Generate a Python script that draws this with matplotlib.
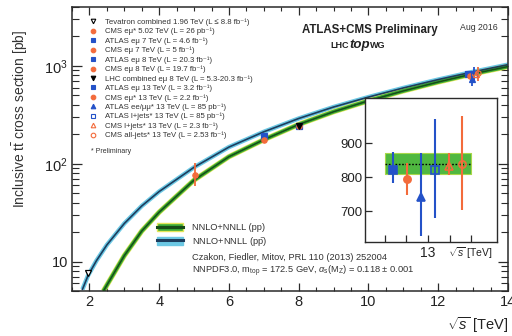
import matplotlib
matplotlib.use("Agg")
import matplotlib.pyplot as plt
from matplotlib.lines import Line2D
from matplotlib.patches import Patch
from matplotlib.legend_handler import HandlerTuple
from matplotlib.ticker import FixedLocator, NullFormatter, FuncFormatter, MultipleLocator

plt.rcParams['font.family'] = ['Liberation Sans', 'DejaVu Sans']
plt.rcParams['mathtext.fontset'] = 'custom'
plt.rcParams['mathtext.rm'] = 'Liberation Sans'
plt.rcParams['mathtext.it'] = 'Liberation Sans:italic'
plt.rcParams['mathtext.bf'] = 'Liberation Sans:bold'

# ---------------- data ----------------
# theory curves
sqrts_pp = [2.4, 2.6, 3.0, 3.5, 4.0, 5.0, 6.0, 7.0, 8.0, 9.0, 10.0, 11.0, 12.0, 13.0, 14.0]
xsec_pp = [5.0, 6.6, 11.5, 20.5, 32, 68, 118, 176, 252, 340, 440, 555, 685, 830, 985]
sqrts_ppbar = [1.8, 1.96, 2.2, 2.5, 3.0, 3.5, 4.0, 5.0, 6.0, 7.0, 8.0, 9.0, 10.0, 11.0, 12.0, 13.0, 14.0]
xsec_ppbar = [5.2, 7.2, 10.2, 14.8, 24.5, 37, 52, 92, 148, 212, 290, 380, 480, 595, 725, 870, 1030]

# theory at 13 TeV (inset band)
theory13_central = 840
theory13_low = 808
theory13_high = 871

# measurements
meas_labels = [
    "Tevatron combined 1.96 TeV (L \u2264 8.8 fb\u207b\u00b9)",
    "CMS e\u03bc* 5.02 TeV (L = 26 pb\u207b\u00b9)",
    "ATLAS e\u03bc 7 TeV (L = 4.6 fb\u207b\u00b9)",
    "CMS e\u03bc 7 TeV (L = 5 fb\u207b\u00b9)",
    "ATLAS e\u03bc 8 TeV (L = 20.3 fb\u207b\u00b9)",
    "CMS e\u03bc 8 TeV (L = 19.7 fb\u207b\u00b9)",
    "LHC combined e\u03bc 8 TeV (L = 5.3-20.3 fb\u207b\u00b9)",
    "ATLAS e\u03bc 13 TeV (L = 3.2 fb\u207b\u00b9)",
    "CMS e\u03bc* 13 TeV (L = 2.2 fb\u207b\u00b9)",
    "ATLAS ee/\u03bc\u03bc* 13 TeV (L = 85 pb\u207b\u00b9)",
    "ATLAS l+jets* 13 TeV (L = 85 pb\u207b\u00b9)",
    "CMS l+jets* 13 TeV (L = 2.3 fb\u207b\u00b9)",
    "CMS all-jets* 13 TeV (L = 2.53 fb\u207b\u00b9)",
]
meas_sqrts = [1.96, 5.02, 7, 7, 8, 8, 8, 13, 13, 13, 13, 13, 13]
meas_xsec = [7.6, 76, 190, 174, 242, 245, 242, 822, 796, 741, 820, 832, 838]
meas_err_lo = [0.4, 17, 7, 7, 10, 9, 9, 38, 49, 112, 140, 26, 135]
meas_err_hi = [0.4, 26, 7, 7, 10, 9, 9, 52, 45, 130, 150, 39, 140]

# ---------------- styles ----------------
BLUE = '#2452c8'
ORANGE = '#f36b3b'
styles = [
    dict(marker='v', color='black', mfc='white'),
    dict(marker='o', color=ORANGE, mfc=ORANGE),
    dict(marker='s', color=BLUE, mfc=BLUE),
    dict(marker='o', color=ORANGE, mfc=ORANGE),
    dict(marker='s', color=BLUE, mfc=BLUE),
    dict(marker='o', color=ORANGE, mfc=ORANGE),
    dict(marker='v', color='black', mfc='black'),
    dict(marker='s', color=BLUE, mfc=BLUE),
    dict(marker='o', color=ORANGE, mfc=ORANGE),
    dict(marker='^', color=BLUE, mfc=BLUE),
    dict(marker='s', color=BLUE, mfc='none'),
    dict(marker='^', color=ORANGE, mfc='none'),
    dict(marker='o', color=ORANGE, mfc='none'),
]

W, H = 512, 336
fig = plt.figure(figsize=(W / 100, H / 100), dpi=100)
ax = fig.add_axes([72 / W, 1 - 291 / H, (508 - 72) / W, (291 - 7) / H])

FRAME = '#2a2a2a'
for s in ax.spines.values():
    s.set_color(FRAME)
    s.set_linewidth(1.1)

# theory curves
ax.plot(sqrts_ppbar, xsec_ppbar, color='#6cc8e4', lw=3.2, solid_capstyle='butt', zorder=2)
ax.plot(sqrts_ppbar, xsec_ppbar, color='#1d3d5e', lw=1.2, zorder=3)
ax.plot(sqrts_pp, xsec_pp, color='#e4e65a', lw=3.8, solid_capstyle='butt', zorder=2)
ax.plot(sqrts_pp, xsec_pp, color='#3aa935', lw=2.8, solid_capstyle='butt', zorder=2)
ax.plot(sqrts_pp, xsec_pp, color='#174d17', lw=1.1, zorder=3)

# measurements in main plot
n13 = 0
handles = []
for x, y, lo, hi, st in zip(meas_sqrts, meas_xsec, meas_err_lo, meas_err_hi, styles):
    xp = x
    if x == 13:
        xp = x - 0.15 + 0.06 * n13
        n13 += 1
    ax.errorbar([xp], [y], yerr=[[lo], [hi]], fmt=st['marker'], color=st['color'],
                mfc=st['mfc'], mec=st['color'], ms=3.8, mew=0.9, elinewidth=1.3,
                capsize=0, zorder=5)
    handles.append(Line2D([], [], ls='none', marker=st['marker'], color=st['color'],
                          mfc=st['mfc'], mec=st['color'], ms=3.3, mew=0.8))

ax.set_yscale('log')
ax.set_xlim(1.5, 14)
ax.set_ylim(5, 4000)

ax.xaxis.set_major_locator(MultipleLocator(2))
ax.xaxis.set_minor_locator(MultipleLocator(0.5))
ax.tick_params(axis='both', which='both', direction='in', top=True, right=True,
               color=FRAME, labelsize=10.5, labelcolor='#222222')
ax.tick_params(axis='x', which='major', length=6, width=0.9, pad=3)
ax.tick_params(axis='x', which='minor', length=3, width=0.8)
ax.tick_params(axis='y', which='major', length=7.5, width=0.9, pad=3)
ax.tick_params(axis='y', which='minor', length=5, width=0.8)


def yfmt(v, pos):
    if abs(v - 10) < 1e-6:
        return '10'
    if abs(v - 100) < 1e-6:
        return r'$\mathregular{10^2}$'
    if abs(v - 1000) < 1e-6:
        return r'$\mathregular{10^3}$'
    return ''


ax.yaxis.set_major_locator(FixedLocator([10, 100, 1000]))
ax.yaxis.set_major_formatter(FuncFormatter(yfmt))
ax.yaxis.set_minor_formatter(NullFormatter())

fig.text(20 / W, 1 - 30 / H, r'Inclusive $\mathregular{t\bar{t}}$ cross section [pb]',
         rotation=90, ha='center', va='top', fontsize=10, color='#333333')
fig.text(508 / W, 1 - 325 / H, r'$\sqrt{s}$ [TeV]', ha='right', va='center',
         fontsize=10.5, color='#222222')

# legend of measurements
leg1 = ax.legend(handles, meas_labels, loc='upper left',
                 bbox_to_anchor=(89 / W, 1 - 18.5 / H), bbox_transform=fig.transFigure,
                 fontsize=5.6, handlelength=1.0, handletextpad=1.05, labelspacing=0.25,
                 borderpad=0, borderaxespad=0, frameon=False)
for t in leg1.get_texts():
    t.set_color('#333333')
ax.add_artist(leg1)
fig.text(91 / W, 1 - 152 / H, '* Preliminary', fontsize=5, ha='left', va='center',
         color='#333333')

# theory legend
th_handles = [
    (Patch(facecolor='#3aa935', edgecolor='#e4e65a', lw=1.0),
     Line2D([], [], color='#174d17', lw=2.2)),
    (Patch(facecolor='#6cc8e4', edgecolor='#6cc8e4', lw=1.0),
     Line2D([], [], color='#1d3d5e', lw=2.2)),
]
th_labels = [r'NNLO+NNLL (pp)', r'NNLO+NNLL ($\mathregular{p\bar{p}}$)']
leg2 = ax.legend(th_handles, th_labels, handler_map={tuple: HandlerTuple(ndivide=1)},
                 loc='upper left', bbox_to_anchor=(157 / W, 1 - 223 / H),
                 bbox_transform=fig.transFigure, fontsize=6.7, handlelength=2.8,
                 handleheight=0.9, handletextpad=1.0, labelspacing=0.3, borderpad=0,
                 borderaxespad=0, frameon=False)
for t in leg2.get_texts():
    t.set_color('#333333')
fig.text(192 / W, 1 - 257 / H, 'Czakon, Fiedler, Mitov, PRL 110 (2013) 252004',
         fontsize=6.7, ha='left', va='center', color='#333333')
fig.text(192 / W, 1 - 271 / H,
         r'NNPDF3.0, m$_{\mathregular{top}}$ = 172.5 GeV, $\alpha_{\mathregular{s}}$(M$_{\mathregular{Z}}$) = 0.118 $\pm$ 0.001',
         fontsize=6.7, ha='left', va='center', color='#333333')

# header texts
fig.text(370 / W, 1 - 30 / H, 'ATLAS+CMS Preliminary', fontsize=8.3, fontweight='bold',
         ha='center', va='center', color='#222222')
fig.text(498 / W, 1 - 28 / H, 'Aug 2016', fontsize=6.3, ha='right', va='center',
         color='#333333')
t1 = fig.text(330 / W, 1 - 48 / H, 'LHC', fontsize=6.5, fontweight='bold',
              ha='left', va='baseline', color='#222222')
t2 = fig.text(0, 0, 'top', fontsize=9.5, fontweight='bold', style='italic',
              ha='left', va='baseline', color='#222222')
t3 = fig.text(0, 0, 'WG', fontsize=6.5, fontweight='bold', ha='left', va='baseline',
              color='#222222')
fig.canvas.draw()
r = fig.canvas.get_renderer()
bb1 = t1.get_window_extent(r)
t2.set_position((bb1.x1 / W + 0.5 / W, 1 - 48 / H))
fig.canvas.draw()
bb2 = t2.get_window_extent(r)
t3.set_position((bb2.x1 / W + 0.8 / W, 1 - 48 / H))

# ---------------- inset ----------------
axi = fig.add_axes([365 / W, 1 - 242 / H, 132 / W, 144 / H])
axi.set_facecolor('white')
for s in axi.spines.values():
    s.set_color(FRAME)
    s.set_linewidth(1.0)
axi.fill_between([12.5, 13.5], [theory13_low] * 2, [theory13_high] * 2,
                 color='#4fb840', edgecolor='#a8d84a', lw=0.8, zorder=1)
axi.plot([12.5, 13.5], [theory13_central] * 2, color='black', ls=(0, (1.2, 1.2)),
         lw=1.0, zorder=2)
k = 0
for x, y, lo, hi, st in zip(meas_sqrts, meas_xsec, meas_err_lo, meas_err_hi, styles):
    if x != 13:
        continue
    xp = 12.59 + 0.162 * k
    k += 1
    axi.errorbar([xp], [y], yerr=[[lo], [hi]], fmt=st['marker'], color=st['color'],
                 mfc=st['mfc'], mec=st['color'], ms=5.2, mew=1.2, elinewidth=1.5,
                 capsize=0, zorder=5)
axi.set_xlim(12.27, 13.8)
axi.set_ylim(610, 1032)
axi.set_xticks([12.5, 12.75, 13, 13.25, 13.5])
axi.set_xticklabels(['', '', '13', '', ''])
axi.set_yticks([700, 800, 900])
axi.tick_params(axis='both', direction='in', color=FRAME, labelsize=9.5,
                labelcolor='#222222', length=5, width=0.9, pad=2)
axi.tick_params(axis='x', pad=3, labelsize=10)
fig.text(493 / W, 1 - 253 / H, r'$\sqrt{s}$ [TeV]', ha='right', va='center',
         fontsize=7.5, color='#222222')

fig.savefig('out.png', dpi=100)
